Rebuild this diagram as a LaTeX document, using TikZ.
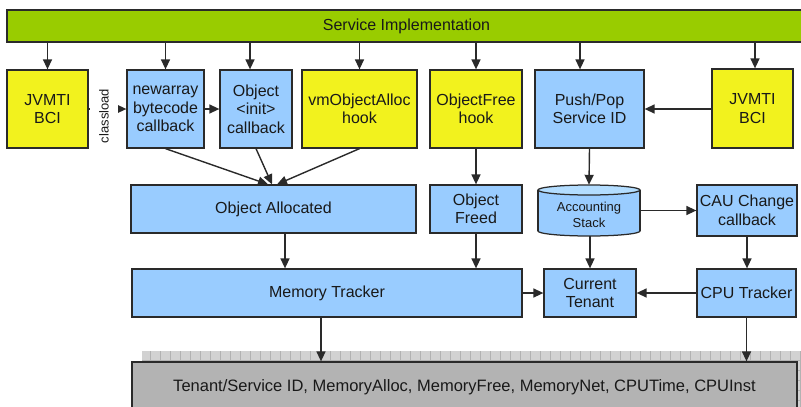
\documentclass[tikz,border=0pt]{standalone}
\usepackage{fontspec}
\setmainfont{Liberation Sans}
\usetikzlibrary{arrows.meta,calc}
\definecolor{bgreen}{HTML}{99CC00}
\definecolor{byellow}{HTML}{F2F21E}
\definecolor{bblue}{HTML}{99CCFF}
\definecolor{bblue2}{HTML}{B3DDFF}
\definecolor{bgray}{HTML}{B3B3B3}
\definecolor{bline}{HTML}{2A2A2A}
\tikzset{
  base/.style={draw=bline, line width=1.25pt, inner sep=0pt, align=center,
    font=\fontsize{16}{18.5}\selectfont, text=black!90},
  ybox/.style={base, fill=byellow},
  bbox/.style={base, fill=bblue},
  arr/.style={draw=bline, line width=1.4pt, -{Triangle[length=10pt,width=9pt]}},
}
\begin{document}
\begin{tikzpicture}[x=1pt,y=-1pt]
\useasboundingbox (0,0) rectangle (801,407);
% top bar
\node[base, fill=bgreen, minimum width=799pt, minimum height=32pt] (bar) at (406.5,26) {\raisebox{-1.5pt}{Service Implementation}};
% row 1
\node[ybox, minimum width=81pt, minimum height=78pt] (jvl) at (47.5,109) {JVMTI\\BCI};
\node[bbox, minimum width=77pt, minimum height=78pt] (na) at (165.5,109) {newarray\\bytecode\\callback};
\node[bbox, minimum width=72pt, minimum height=78pt] (oi) at (256,109) {Object\\<init>\\callback};
\node[ybox, minimum width=115pt, minimum height=78pt] (vm) at (359.5,109) {vmObjectAlloc\\hook};
\node[ybox, minimum width=92pt, minimum height=78pt] (of) at (476,109) {ObjectFree\\hook};
\node[bbox, minimum width=109pt, minimum height=78pt] (pp) at (589.5,109) {Push/Pop\\Service ID};
\node[ybox, minimum width=81pt, minimum height=79pt] (jvr) at (752.5,108.5) {JVMTI\\BCI};
% row 2
\node[bbox, minimum width=285pt, minimum height=48pt] (oa) at (273.5,209) {Object Allocated};
\node[bbox, minimum width=92pt, minimum height=48pt] (ofd) at (476,209) {Object\\Freed};
\node[minimum width=102pt, minimum height=51pt, inner sep=0pt] (st) at (589,210.5) {};
\fill[bblue, draw=bline, line width=1.25pt] (589,231) ellipse (51pt and 5pt);
\fill[bblue] (538,190) rectangle (640,231);
\draw[bline, line width=1.25pt] (538,190) -- (538,231) (640,190) -- (640,231);
\fill[bblue2, draw=bline, line width=1.25pt] (589,190) ellipse (51pt and 5pt);
\node[align=center, font=\fontsize{13}{15.5}\selectfont, text=black!90] (stl) at (589,215) {Accounting\\Stack};
\node[bbox, minimum width=100pt, minimum height=51pt] (cau) at (747,210.5) {CAU Change\\callback};
% row 3
\node[bbox, minimum width=390pt, minimum height=48pt] (mt) at (327,293) {Memory Tracker};
\node[bbox, minimum width=92pt, minimum height=48pt] (ct) at (590,293) {Current\\Tenant};
\node[bbox, minimum width=99pt, minimum height=48pt] (cpu) at (746.5,293) {CPU Tracker};
% bottom store with shadow
\begin{scope}
\clip (142,351) rectangle (806,412);
\fill[gray!35] (142,351) rectangle (806,412);
\draw[gray!60, line width=0.5pt, step=10pt] (140,340) grid (810,420);
\end{scope}
\node[base, fill=bgray, minimum width=665pt, minimum height=50pt, font=\fontsize{16.5}{19}\selectfont] (db) at (464.5,387) {Tenant/Service ID, MemoryAlloc, MemoryFree, MemoryNet, CPUTime, CPUInst};
% arrows from bar
\draw[arr] (bar.south -| jvl.north) -- (jvl.north);
\draw[arr] (bar.south -| na.north) -- (na.north);
\draw[arr] ([xshift=-6pt]oi.north |- bar.south) -- ([xshift=-6pt]oi.north);
\draw[arr] (bar.south -| vm.north) -- (vm.north);
\draw[arr] (bar.south -| of.north) -- (of.north);
\draw[arr] ([xshift=-9.5pt]pp.north |- bar.south) -- ([xshift=-9.5pt]pp.north);
\draw[arr] ([xshift=2.5pt]jvr.north |- bar.south) -- ([xshift=2.5pt]jvr.north);
% row 1 horizontal
\draw[arr] (jvl.east) -- (na.west);
\node[fill=white, rotate=90, inner sep=1pt, minimum height=28pt, font=\fontsize{13}{15}\selectfont, text=black!90] (cl) at (104,116) {classload};
\draw[arr] (na.east) -- (oi.west);
\draw[arr] (jvr.west |- pp.east) -- (pp.east);
% converge
\draw[arr] (na.south) -- ([xshift=-5.5pt]oa.north);
\draw[arr] (oi.south) -- ([xshift=-1.5pt]oa.north);
\draw[arr] (vm.south) -- ([xshift=3.5pt]oa.north);
\draw[arr] (of.south) -- (ofd.north);
\draw[arr] (pp.south) -- (st.north);
\draw[arr] (st.east) -- (cau.west);
% row 2 -> row 3
\draw[arr] ([xshift=11.5pt]oa.south) -- ([xshift=11.5pt]oa.south |- mt.north);
\draw[arr] (ofd.south) -- (ofd.south |- mt.north);
\draw[arr] (st.south) -- (st.south -| ct.north) -- (ct.north);
\draw[arr] (cau.south) -- (cau.south |- cpu.north);
\draw[arr] (mt.east) -- (ct.west);
\draw[arr] (cpu.west) -- (ct.east);
% to store
\draw[arr] ([xshift=-6pt]mt.south) -- ([xshift=-6pt]mt.south |- db.north);
\draw[arr] (cpu.south) -- (cpu.south |- db.north);
\end{tikzpicture}
\end{document}
